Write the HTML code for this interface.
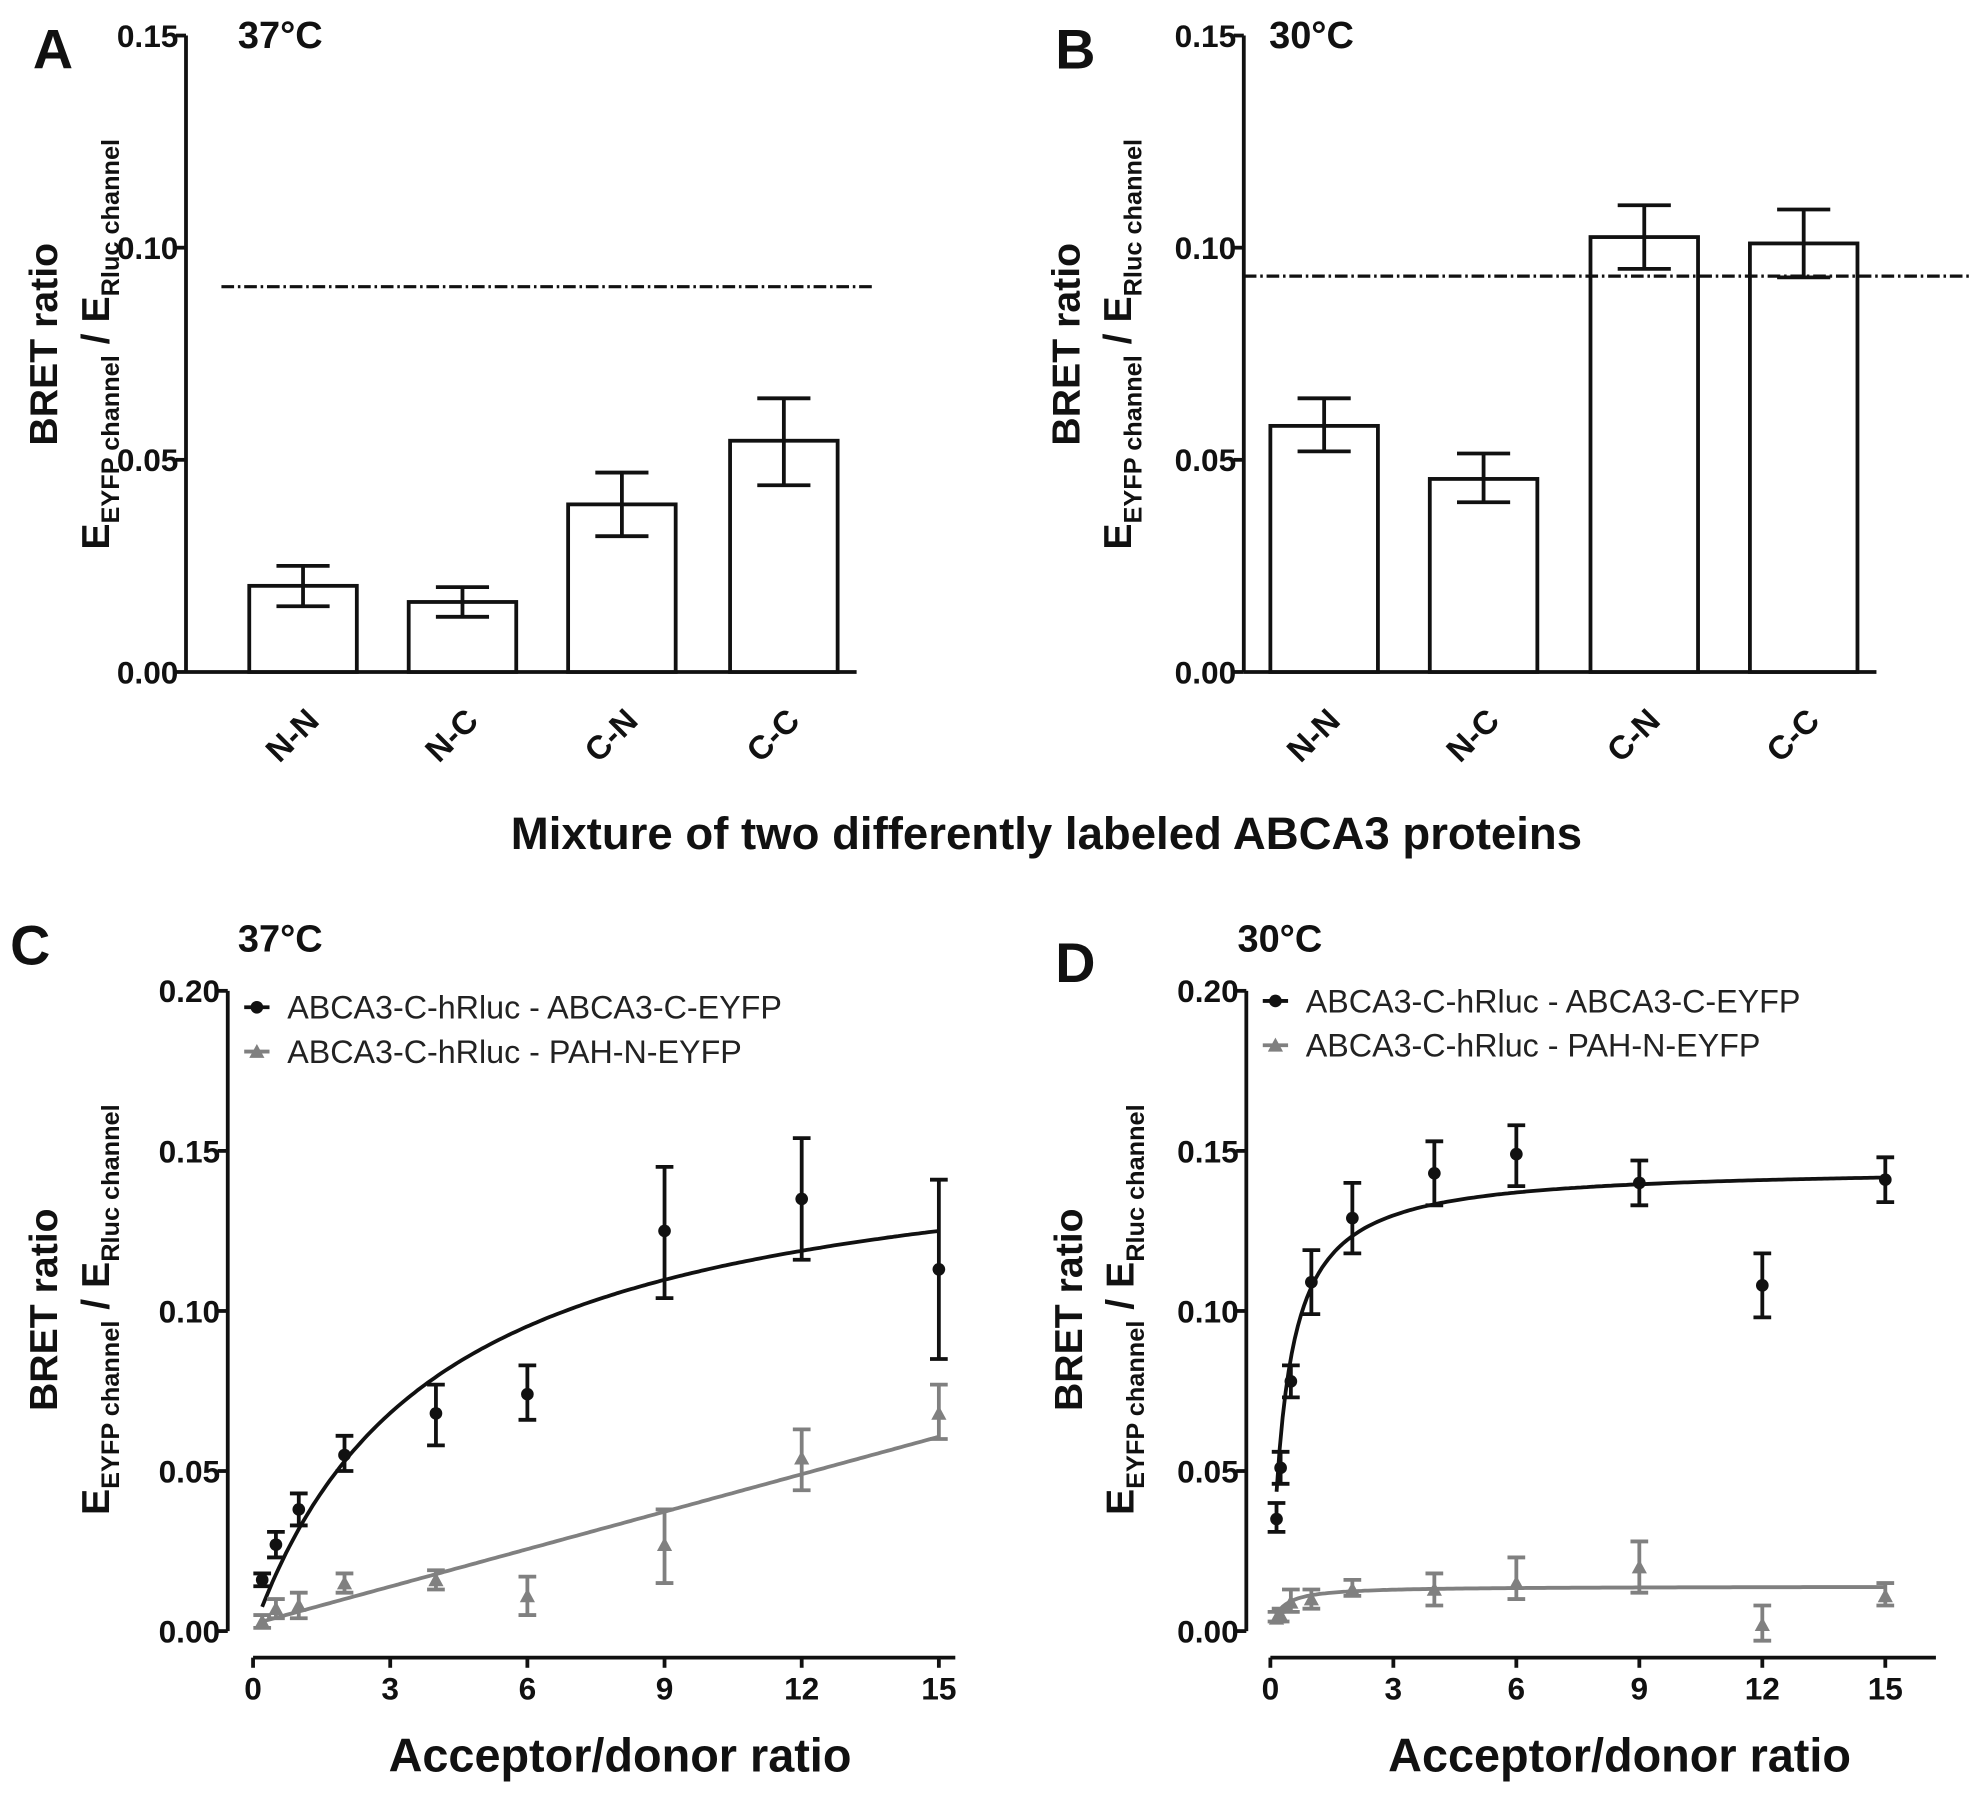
<!DOCTYPE html>
<html><head><meta charset="utf-8"><style>
html,body{margin:0;padding:0;background:#fff;}
svg{display:block;font-family:"Liberation Sans",Arial,sans-serif;}
</style></head><body>
<svg id="fig" width="1984" height="1802" viewBox="0 0 1568 1424" xmlns="http://www.w3.org/2000/svg">
<rect width="1568" height="1424" fill="#fff"/>
<g font-weight="bold" fill="#111">
<text x="26" y="54" font-size="44">A</text>
<text x="188" y="38" font-size="30">37°C</text>
<text x="834" y="54" font-size="44">B</text>
<text x="1003" y="38" font-size="30">30°C</text>
<text x="827" y="671" font-size="36" text-anchor="middle">Mixture of two differently labeled ABCA3 proteins</text>
<text x="8" y="762" font-size="44">C</text>
<text x="188" y="752" font-size="30">37°C</text>
<text x="834" y="776" font-size="44">D</text>
<text x="978" y="752" font-size="30">30°C</text>
<text x="490" y="1400" font-size="37" text-anchor="middle">Acceptor/donor ratio</text>
<text x="1280" y="1400" font-size="37" text-anchor="middle">Acceptor/donor ratio</text>
</g>
<g id="plots"></g>
</svg>
<script>
// Panel A/B bar data
const barCats = ["N-N","N-C","C-N","C-C"];
const barA = [0.0203,0.0165,0.0395,0.0545];
const barAlo = [0.0155,0.013,0.032,0.044];
const barAhi = [0.025,0.020,0.047,0.0645];
const refA = 0.0908;
const barB = [0.058,0.0455,0.1025,0.101];
const barBlo = [0.052,0.040,0.095,0.093];
const barBhi = [0.0645,0.0515,0.110,0.109];
const refB = 0.0933;
const barTicks = [0,0.05,0.10,0.15];
const barTickLabels = ["0.00","0.05","0.10","0.15"];
// Panel C data
const cX = [0.2,0.5,1,2,4,6,9,12,15];
const cBlack = [0.016,0.027,0.038,0.055,0.068,0.074,0.125,0.135,0.113];
const cBlackLo = [0.014,0.023,0.033,0.050,0.058,0.066,0.104,0.116,0.085];
const cBlackHi = [0.018,0.031,0.043,0.061,0.077,0.083,0.145,0.154,0.141];
const cGray = [0.003,0.007,0.008,0.015,0.016,0.011,0.027,0.054,0.068];
const cGrayLo = [0.001,0.004,0.004,0.012,0.013,0.005,0.015,0.044,0.060];
const cGrayHi = [0.005,0.010,0.012,0.018,0.019,0.017,0.038,0.063,0.077];
const cFitBlack = [0.158,3.96];   // Bmax, Kd
const cFitGray = [0.0039,0.0022]; // slope, intercept
// Panel D data
const dX = [0.15,0.25,0.5,1,2,4,6,9,12,15];
const dBlack = [0.035,0.051,0.078,0.109,0.129,0.143,0.149,0.140,0.108,0.141];
const dBlackLo = [0.031,0.046,0.073,0.099,0.118,0.133,0.139,0.133,0.098,0.134];
const dBlackHi = [0.040,0.056,0.083,0.119,0.140,0.153,0.158,0.147,0.118,0.148];
const dGray = [0.004,0.005,0.009,0.010,0.013,0.013,0.015,0.020,0.002,0.011];
const dGrayLo = [0.003,0.003,0.006,0.007,0.011,0.008,0.010,0.012,-0.003,0.008];
const dGrayHi = [0.006,0.007,0.013,0.013,0.016,0.018,0.023,0.028,0.008,0.015];
const dFitBlack = [0.145,0.35];
const dFitGray = [0.014,0.25];
const lineTicks = [0,0.05,0.10,0.15,0.20];
const lineTickLabels = ["0.00","0.05","0.10","0.15","0.20"];
const xTicks = [0,3,6,9,12,15];
const legendLabels = ["ABCA3-C-hRluc - ABCA3-C-EYFP","ABCA3-C-hRluc - PAH-N-EYFP"];

const NS="http://www.w3.org/2000/svg";
const root=document.getElementById('plots');
function mk(tag,attrs,parent,text){const e=document.createElementNS(NS,tag);for(const k in attrs)e.setAttribute(k,attrs[k]);if(text!==undefined)e.textContent=text;(parent||root).appendChild(e);return e;}

function yLabel(g,x1,x2,cy){
  const t1=mk('text',{x:0,y:0,transform:`translate(${x1},${cy}) rotate(-90)`,'text-anchor':'middle','font-size':31,'font-weight':'bold',fill:'#111'},g,'BRET ratio');
  
  
  const t2=mk('text',{x:0,y:0,transform:`translate(${x2},${cy}) rotate(-90)`,'text-anchor':'middle','font-size':31,'font-weight':'bold',fill:'#111'},g);
  
  
  mk('tspan',{},t2,'E');
  mk('tspan',{'font-size':20,dy:8},t2,'EYFP channel');
  mk('tspan',{dy:-8},t2,' / E');
  mk('tspan',{'font-size':20,dy:8},t2,'Rluc channel');
}

function barPanel(ax,vals,lo,hi,ref,refX1,refX2,barX,yl){
  const g=mk('g',{});
  
  
  const y0=531,ytop=28;
  const ys=v=>y0-(v/0.15)*(y0-ytop);
  mk('line',{x1:ax,y1:ytop,x2:ax,y2:y0,stroke:'#111','stroke-width':3},g);
  mk('line',{x1:ax,y1:y0,x2:barX[3]+100,y2:y0,stroke:'#111','stroke-width':3},g);
  barTicks.forEach((t,i)=>{
    mk('line',{x1:ax-8,y1:ys(t),x2:ax,y2:ys(t),stroke:'#111','stroke-width':3},g);
    const tl=mk('text',{x:ax-6,y:ys(t)+9,'text-anchor':'end','font-size':25,'font-weight':'bold',fill:'#111'},g,barTickLabels[i]);
    
    
  });
  vals.forEach((v,i)=>{
    const x=barX[i],w=85,cx=x+w/2;
    const r=mk('rect',{x:x,y:ys(v),width:w,height:y0-ys(v),fill:'#fff',stroke:'#111','stroke-width':3},g);
    
    
    mk('line',{x1:cx,y1:ys(lo[i]),x2:cx,y2:ys(hi[i]),stroke:'#111','stroke-width':3},g);
    mk('line',{x1:cx-21,y1:ys(lo[i]),x2:cx+21,y2:ys(lo[i]),stroke:'#111','stroke-width':3},g);
    mk('line',{x1:cx-21,y1:ys(hi[i]),x2:cx+21,y2:ys(hi[i]),stroke:'#111','stroke-width':3},g);
    const cl=mk('text',{x:0,y:0,transform:`translate(${cx+14},${y0+40}) rotate(-45)`,'text-anchor':'end','font-size':26,'font-weight':'bold',fill:'#111'},g,barCats[i]);
    
    
  });
  const rl=mk('line',{x1:refX1,y1:ys(ref),x2:refX2,y2:ys(ref),stroke:'#111','stroke-width':2.5,'stroke-dasharray':'10 3 2 3'},g);
  
  
  yLabel(g,yl[0],yl[1],272);
}
barPanel(147,barA,barAlo,barAhi,refA,175,692,[197,323,449,577],[45,86]);
barPanel(983,barB,barBlo,barBhi,refB,983,1557,[1004,1130,1257,1383],[853,894]);

function linePanel(ax,x0px,x15px,xEnd,xs,bl,bll,blh,gr,grl,grh,fitB,fitG,grayLinear,yl){
  const g=mk('g',{});
  
  
  const y0=1289,ytop=783;
  const ys=v=>y0-(v/0.20)*(y0-ytop);
  const xsc=v=>x0px+(v/15)*(x15px-x0px);
  mk('line',{x1:ax,y1:ytop,x2:ax,y2:y0,stroke:'#111','stroke-width':3},g);
  lineTicks.forEach((t,i)=>{
    mk('line',{x1:ax-8,y1:ys(t),x2:ax,y2:ys(t),stroke:'#111','stroke-width':3},g);
    const tl=mk('text',{x:ax-6,y:ys(t)+9,'text-anchor':'end','font-size':25,'font-weight':'bold',fill:'#111'},g,lineTickLabels[i]);
    
    
  });
  const xa=1310;
  mk('line',{x1:x0px,y1:xa,x2:xEnd,y2:xa,stroke:'#111','stroke-width':3},g);
  xTicks.forEach(t=>{
    mk('line',{x1:xsc(t),y1:xa,x2:xsc(t),y2:xa+8,stroke:'#111','stroke-width':3},g);
    const tl=mk('text',{x:xsc(t),y:xa+33,'text-anchor':'middle','font-size':25,'font-weight':'bold',fill:'#111'},g,String(t));
    
    
  });
  let dB='',dG='';
  for(let i=0;i<=200;i++){
    const x=xs[0]+(15-xs[0])*i/200;
    const yb=fitB[0]*x/(fitB[1]+x);
    const yg=grayLinear?fitG[0]*x+fitG[1]:fitG[0]*x/(fitG[1]+x);
    dB+=(i?'L':'M')+xsc(x).toFixed(1)+','+ys(yb).toFixed(1);
    dG+=(i?'L':'M')+xsc(x).toFixed(1)+','+ys(yg).toFixed(1);
  }
  const pg=mk('path',{d:dG,fill:'none',stroke:'#808080','stroke-width':3},g);
  
  
  const pb=mk('path',{d:dB,fill:'none',stroke:'#111','stroke-width':3},g);
  
  
  function err(x,lo,hi,col){
    mk('line',{x1:xsc(x),y1:ys(lo),x2:xsc(x),y2:ys(hi),stroke:col,'stroke-width':3},g);
    mk('line',{x1:xsc(x)-7,y1:ys(lo),x2:xsc(x)+7,y2:ys(lo),stroke:col,'stroke-width':3},g);
    mk('line',{x1:xsc(x)-7,y1:ys(hi),x2:xsc(x)+7,y2:ys(hi),stroke:col,'stroke-width':3},g);
  }
  xs.forEach((x,i)=>{
    err(x,grl[i],grh[i],'#808080');
    const px=xsc(x),py=ys(gr[i]);
    const tri=mk('polygon',{points:`${px},${py-6} ${px-6},${py+5} ${px+6},${py+5}`,fill:'#808080'},g);
    
    
  });
  xs.forEach((x,i)=>{
    err(x,bll[i],blh[i],'#111');
    const c=mk('circle',{cx:xsc(x),cy:ys(bl[i]),r:5,fill:'#111'},g);
    
    
  });
  const lx=ax+13;
  [0,1].forEach(i=>{
    const ly=(ax<500?796:791)+i*35;
    const col=i?'#808080':'#111';
    const lg=mk('g',{},g);
    
    
    mk('line',{x1:lx,y1:ly,x2:lx+20,y2:ly,stroke:col,'stroke-width':3},lg);
    if(i) mk('polygon',{points:`${lx+10},${ly-6} ${lx+4},${ly+5} ${lx+16},${ly+5}`,fill:col},lg);
    else mk('circle',{cx:lx+10,cy:ly,r:5,fill:col},lg);
    mk('text',{x:lx+34,y:ly+9,'font-size':25.5,fill:'#222'},lg,legendLabels[i]);
  });
  yLabel(g,yl[0],yl[1],1035);
}
linePanel(180,200,742,755,cX,cBlack,cBlackLo,cBlackHi,cGray,cGrayLo,cGrayHi,cFitBlack,cFitGray,true,[45,86]);
linePanel(985,1004,1490,1530,dX,dBlack,dBlackLo,dBlackHi,dGray,dGrayLo,dGrayHi,dFitBlack,dFitGray,false,[855,896]);
</script>
</body></html>
